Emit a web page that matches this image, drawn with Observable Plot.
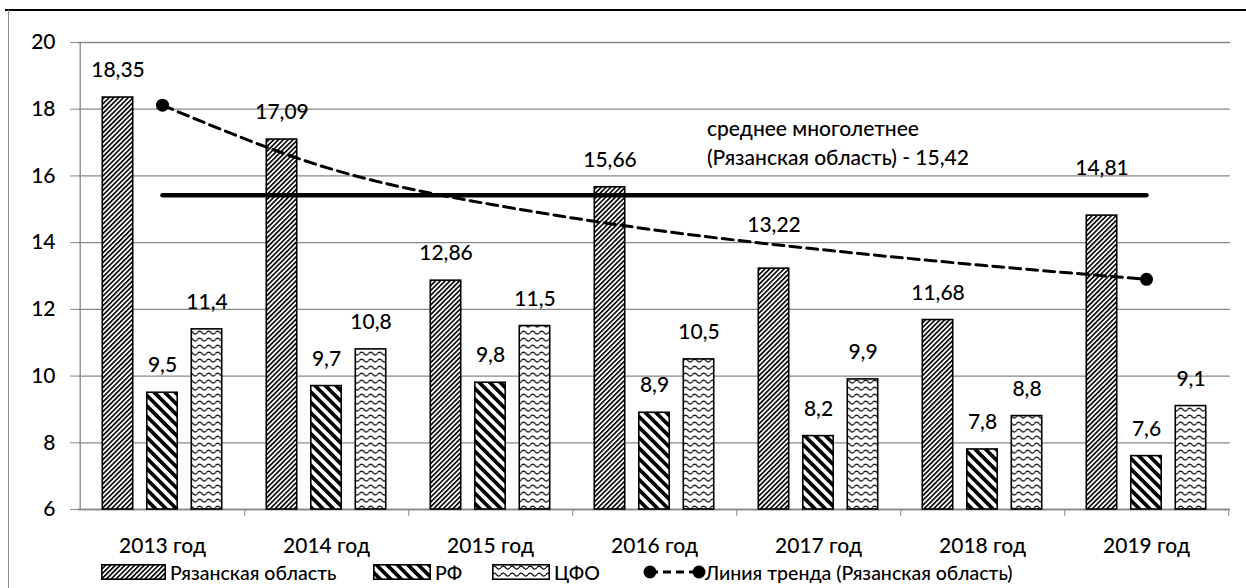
<!DOCTYPE html>
<html><head><meta charset="utf-8">
<script src="https://cdn.jsdelivr.net/npm/d3@7"></script>
<script src="https://cdn.jsdelivr.net/npm/@observablehq/plot@0.6"></script>
<style>
body{margin:0;background:#fff;font-family:Lato,"Open Sans",sans-serif;}
#wrap{position:relative;width:1246px;height:588px;overflow:hidden;background:#fff}
#topline{position:absolute;left:5px;top:9px;width:1241px;height:2px;background:#000}
#leftline{position:absolute;left:8px;top:10px;width:1px;height:578px;background:#8a8a8a}
#chart{position:absolute;left:0;top:0}
#legend{position:absolute;left:0;top:560px;width:1246px;height:24px;font-size:19.5px;font-weight:500;color:#000}
.li{position:absolute;top:0;height:24px;display:flex;align-items:center;white-space:nowrap}
</style></head><body>
<svg width="0" height="0" style="position:absolute">
<defs>
<pattern id="pRyazan" patternUnits="userSpaceOnUse" width="3.4" height="10" patternTransform="rotate(45)">
  <rect width="3.4" height="10" fill="#fff"/><rect width="1.6" height="10" fill="#000"/>
</pattern>
<pattern id="pRF" patternUnits="userSpaceOnUse" width="7.4" height="10" patternTransform="rotate(-45)">
  <rect width="7.4" height="10" fill="#fff"/><rect width="3.7" height="10" fill="#000"/>
</pattern>
<pattern id="pCFO" patternUnits="userSpaceOnUse" width="9" height="7">
  <rect width="9" height="7" fill="#fff"/><path d="M0 3.5 Q2.25 0.5 4.5 3.5 Q6.75 6.5 9 3.5" fill="none" stroke="#000" stroke-width="1.25"/>
</pattern>
</defs></svg>
<div id="wrap">
  <div id="topline"></div>
  <div id="leftline"></div>
  <div id="chart"></div>
  <div id="legend"></div>
</div>
<script>
// ---- data ----
const years = ["2013 год","2014 год","2015 год","2016 год","2017 год","2018 год","2019 год"];
const ryazan = [18.35, 17.09, 12.86, 15.66, 13.22, 11.68, 14.81];
const rf = [9.5, 9.7, 9.8, 8.9, 8.2, 7.8, 7.6];
const cfo = [11.4, 10.8, 11.5, 10.5, 9.9, 8.8, 9.1];
const trend = [18.12, 16.25, 15.15, 14.38, 13.80, 13.32, 12.90];
const average = 15.42;
const yTicks = [6, 8, 10, 12, 14, 16, 18, 20];
const seriesNames = ["Рязанская область", "РФ", "ЦФО", "Линия тренда (Рязанская область)"];
const avgLabel = ["среднее многолетнее", "(Рязанская область) - "];

// ---- layout ----
const W = 1246, H = 560, mL = 78, mR = 16, mT = 42, mB = 51;
const bw = (W - mL - mR) / years.length;
const off = 44.5, barW = 31, inset = (bw - barW) / 2;
const gray = "#878787";
const font = 'Lato,"Open Sans",sans-serif';
const FS = 21;
// labels moved up by hand in the original chart (extra lift in px)
const labelLift = {"2017 год": 16, "2019 год": 20};
const rows = vals => years.map((y, i) => ({year: y, value: vals[i]}));
const fmt = v => String(v).replace(".", ",");
const trendRows = rows(trend);

function bars(vals, fill, dx) {
  return Plot.barY(rows(vals), {x: "year", y1: () => 6, y2: "value", dx, insetLeft: inset, insetRight: inset,
      fill, stroke: "#000", strokeWidth: 1.6});
}
function labels(vals, dx, lift) {
  const r = rows(vals);
  const normal = lift ? r.filter(d => !(d.year in labelLift)) : r;
  const marks = [Plot.text(normal, {x: "year", y: "value", text: d => fmt(d.value), dx, dy: -27, fontSize: FS, fontWeight: 500, fill: "#000"})];
  if (lift) for (const d of r.filter(d => d.year in labelLift))
    marks.push(Plot.text([d], {x: "year", y: "value", text: d => fmt(d.value), dx, dy: -27 - labelLift[d.year], fontSize: FS, fontWeight: 500, fill: "#000"}));
  return marks;
}

const chart = Plot.plot({
  width: W, height: H, marginLeft: mL, marginRight: mR, marginTop: mT, marginBottom: mB,
  style: {fontFamily: font, fontSize: FS + "px", fontWeight: 500, color: "#000", background: "transparent", overflow: "visible"},
  x: {type: "band", domain: years, padding: 0, label: null},
  y: {domain: [6, 20], label: null},
  marks: [
    Plot.gridY(yTicks, {stroke: gray, strokeOpacity: 1, strokeWidth: 1.3}),
    Plot.ruleX([years[0]], {dx: -bw / 2, stroke: gray, strokeWidth: 1.3}),
    Plot.ruleY([6], {stroke: gray, strokeWidth: 1.3}),
    Plot.axisY(yTicks, {tickSize: 8, tickPadding: 15, stroke: gray, fill: "#000", fontSize: FS, label: null, tickFormat: d => String(d)}),
    Plot.axisX({tickSize: 7, tickFormat: () => "", dx: bw / 2, stroke: gray, label: null}),
    Plot.axisX({tickSize: 0, tickPadding: 29, fill: "#000", fontSize: FS, label: null}),
    bars(ryazan, "url(#pRyazan)", -off),
    bars(rf, "url(#pRF)", 0),
    bars(cfo, "url(#pCFO)", off),
    Plot.line([{year: years[0], value: average}, {year: years[years.length - 1], value: average}],
      {x: "year", y: "value", stroke: "#000", strokeWidth: 4.5, strokeLinecap: "round"}),
    Plot.line(trendRows, {x: "year", y: "value", stroke: "#000", strokeWidth: 3, strokeDasharray: "11,6", curve: "natural"}),
    Plot.dot([trendRows[0], trendRows[trendRows.length - 1]], {x: "year", y: "value", r: 6.5, fill: "#000", stroke: "none"}),
    ...labels(ryazan, -off, true),
    ...labels(rf, 0, false),
    ...labels(cfo, off, false),
    Plot.text([avgLabel[0] + "\n" + avgLabel[1] + fmt(average)],
      {x: () => years[4], y: () => 17.05, text: d => d, dx: 707 - (mL + 4.5 * bw), textAnchor: "start",
       lineHeight: 1.4, fontSize: FS, fontWeight: 500, fill: "#000"})
  ]
});
document.getElementById("chart").appendChild(chart);

// ---- legend ----
const legend = document.getElementById("legend");
function item(left, html) {
  const d = document.createElement("div");
  d.className = "li"; d.style.left = left + "px"; d.innerHTML = html; legend.appendChild(d);
}
const sw = (id, w) => `<svg width="${w}" height="16" style="margin-right:4px"><rect x="0.8" y="0.8" width="${w-1.6}" height="14.4" fill="url(#${id})" stroke="#000" stroke-width="1.6"/></svg>`;
item(101, sw("pRyazan", 65) + `<span>${seriesNames[0]}</span>`);
item(373, sw("pRF", 58) + `<span>${seriesNames[1]}</span>`);
item(492, sw("pCFO", 58) + `<span>${seriesNames[2]}</span>`);
item(642, `<svg width="64" height="16"><line x1="8" y1="8" x2="57" y2="8" stroke="#000" stroke-width="3" stroke-dasharray="8,5"/><circle cx="8" cy="8" r="6.5"/><circle cx="57" cy="8" r="6.5"/></svg><span style="margin-left:-1px">${seriesNames[3]}</span>`);
</script>
</body></html>
